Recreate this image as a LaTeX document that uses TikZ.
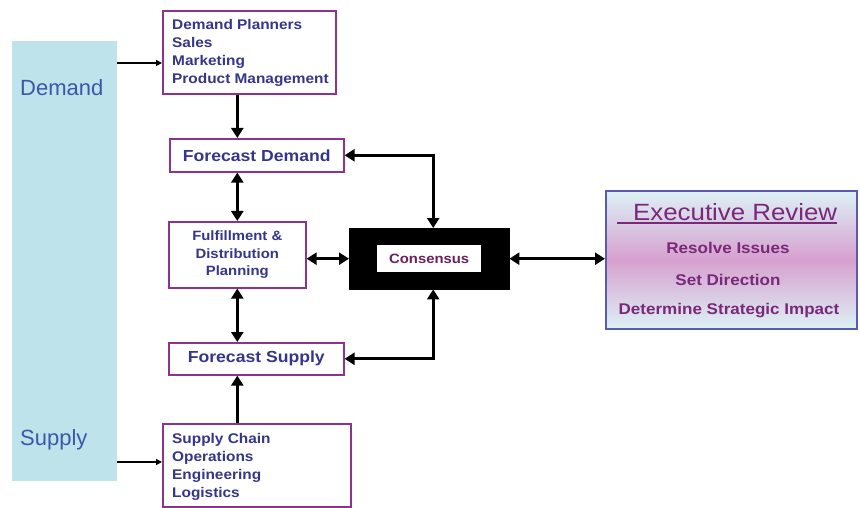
\documentclass[tikz,border=0pt]{standalone}
\usepackage{fontspec}
\setmainfont{Liberation Sans}
\newfontfamily\wide{Liberation Sans}[FakeStretch=1.1]
\usetikzlibrary{arrows.meta}
\definecolor{sidebg}{HTML}{BFE3EA}
\definecolor{sidetxt}{HTML}{3A58AA}
\definecolor{boxline}{HTML}{8E3290}
\definecolor{boxtxt}{HTML}{35358A}
\definecolor{contxt}{HTML}{6C1F5E}
\definecolor{exline}{HTML}{5A5AAE}
\definecolor{extxt}{HTML}{7A2878}
\definecolor{excyan}{HTML}{DDF2F6}
\definecolor{expink}{HTML}{D6A0CF}
\begin{document}
\begin{tikzpicture}[x=1pt,y=-1pt,
  sidebox/.style={fill=sidebg, draw=none, inner sep=0pt},
  sidelabel/.style={text=sidetxt, font=\fontsize{22}{24}\selectfont, inner sep=0pt, anchor=west},
  pbox/.style={draw=boxline, line width=1.6pt, fill=white, text=boxtxt, inner sep=0pt, anchor=north west},
  listtext/.style={text=boxtxt, font=\wide\bfseries\fontsize{14}{18}\selectfont, align=left, inner sep=0pt, anchor=west},
  fctext/.style={font=\wide\bfseries\fontsize{16}{18}\selectfont},
  thk/.style={line width=2.8pt, -{Triangle[length=10pt,width=12pt]}},
  dbl/.style={line width=2.8pt, {Triangle[length=10pt,width=12pt]}-{Triangle[length=10pt,width=12pt]}},
  thin/.style={line width=1.3pt, -{Triangle[length=6pt,width=6pt]}},
  extext/.style={text=extxt, font=\wide\bfseries\fontsize{15.5}{17}\selectfont, inner sep=0pt}
]
\useasboundingbox (0,0) rectangle (860,508);

% side bar
\node[sidebox, anchor=north west, minimum width=105pt, minimum height=440pt] (side) at (12,41) {};
\node[sidelabel] (demand) at (20,88) {Demand};
\node[sidelabel] (supply) at (20,440) {Supply};

% boxes
\node[pbox, minimum width=173pt, minimum height=83pt] (dp) at (162,10) {};
\node[listtext] (dptext) at ([xshift=10pt,yshift=-1pt]dp.west)
  {Demand Planners\\Sales\\Marketing\\Product Management};
\node[pbox, minimum width=174pt, minimum height=33pt, fctext] (fd) at (169,138) {Forecast Demand};
\node[pbox, minimum width=137pt, minimum height=66pt, align=center,
  font=\wide\bfseries\fontsize{13.5}{17.5}\selectfont] (ff) at (168,221)
  {Fulfillment \&\\Distribution\\Planning};
\node[pbox, minimum width=175pt, minimum height=32pt, fctext] (fs) at (168,342) {Forecast Supply};
\node[pbox, minimum width=188pt, minimum height=83pt] (sc) at (162,423) {};
\node[listtext] (sctext) at ([xshift=10pt,yshift=-2pt]sc.west)
  {Supply Chain\\Operations\\Engineering\\Logistics};

% consensus
\node[fill=black, draw=black, minimum width=160pt, minimum height=61pt, inner sep=0pt, anchor=north west] (cons) at (349,228) {};
\node[fill=white, minimum width=104pt, minimum height=27pt, inner sep=0pt, text=contxt,
  font=\wide\bfseries\fontsize{13.5}{15}\selectfont] (constext) at (cons.center) {Consensus};

% executive review
\node[draw=exline, line width=1.6pt, top color=excyan, bottom color=excyan, middle color=expink,
  minimum width=251pt, minimum height=138pt, inner sep=0pt, anchor=north west] (ex) at (605,190) {};
\node[text=extxt, font=\wide\fontsize{23.5}{25}\selectfont, inner sep=0pt, anchor=base west] (title) at (633,220) {Executive Review};
\draw[extxt, line width=1.6pt] ([xshift=-16pt,yshift=-3pt]title.base west) -- ([yshift=-3pt]title.base east);
\node[extext] (r1) at (728,248) {Resolve Issues};
\node[extext] (r2) at (728,280) {Set Direction};
\node[extext] (r3) at (729,311) {Determine Strategic Impact};

% connectors
\draw[thin] (side.east |- 0,63) -- (dp.west |- 0,63);
\draw[thin] (side.east |- 0,462) -- (sc.west |- 0,462);
\draw[thk] (dp.south -| ff.north) -- (fd.north -| ff.north);
\draw[dbl] (fd.south -| ff.north) -- (ff.north);
\draw[dbl] (ff.south) -- (fs.north -| ff.south);
\draw[thk] (sc.north -| ff.south) -- (fs.south -| ff.south);
\draw[dbl] (fd.east) -| ([xshift=4pt]cons.north);
\draw[dbl] (fs.east) -| ([xshift=4pt]cons.south);
\draw[dbl] (cons.west -| ff.east) -- (cons.west);
\draw[dbl] (cons.east) -- (cons.east -| ex.west);
\end{tikzpicture}
\end{document}
